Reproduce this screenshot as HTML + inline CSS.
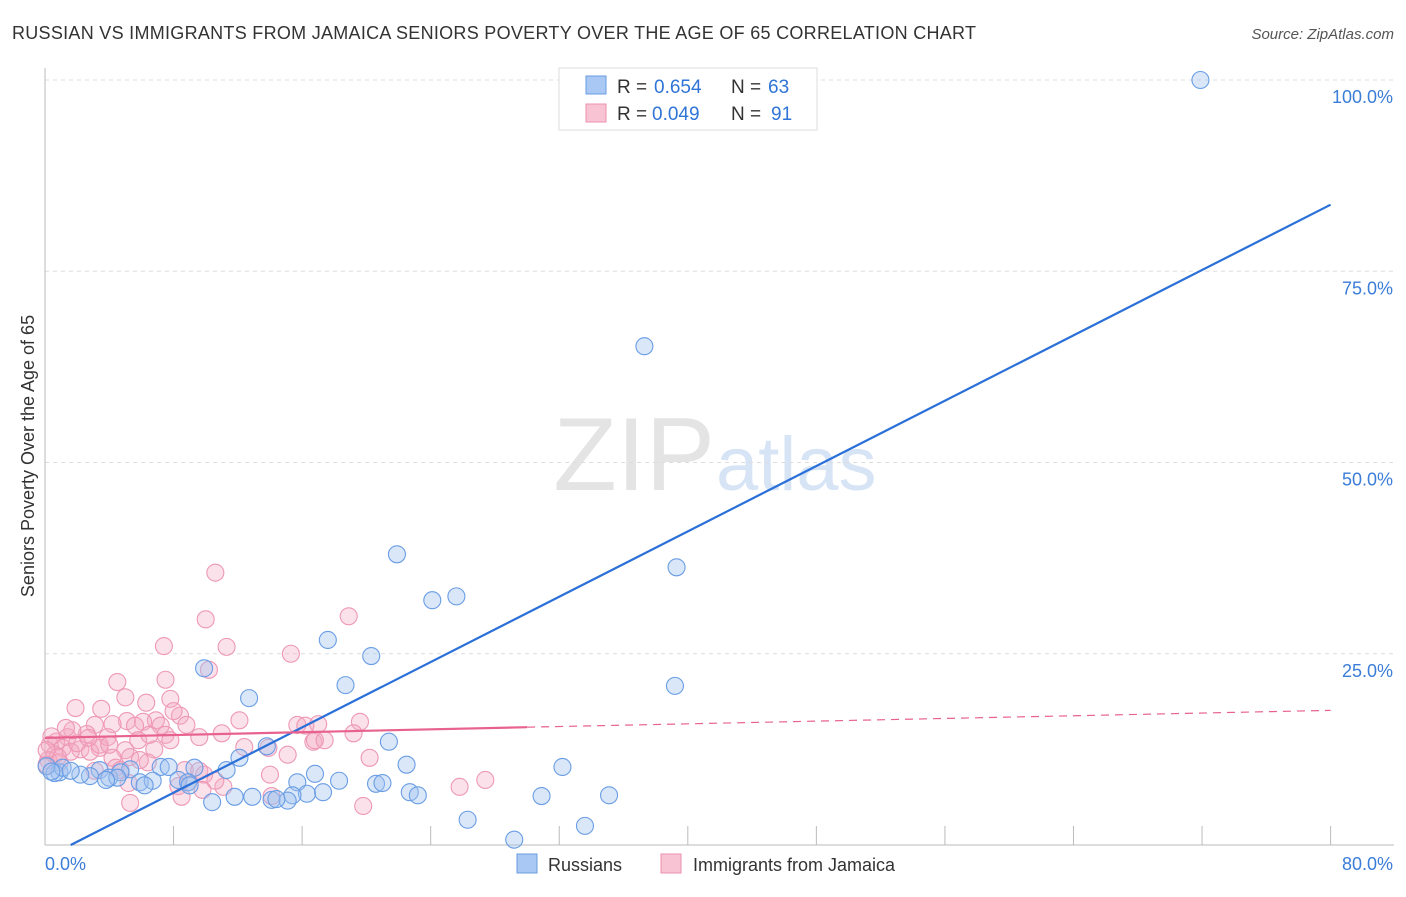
<!DOCTYPE html>
<html><head><meta charset="utf-8"><style>
body{margin:0;background:#fff;font-family:"Liberation Sans",sans-serif}
svg text{font-family:"Liberation Sans",sans-serif}
</style></head><body>
<svg id="chart" width="1406" height="892">
<text x="12" y="39" font-size="18" fill="#333" textLength="964">RUSSIAN VS IMMIGRANTS FROM JAMAICA SENIORS POVERTY OVER THE AGE OF 65 CORRELATION CHART</text>
<text x="1394" y="39" font-size="15" fill="#555" font-style="italic" text-anchor="end">Source: ZipAtlas.com</text>
<text x="715" y="490" font-size="104" fill="#e4e4e4" text-anchor="end" font-family="Liberation Serif">ZIP</text>
<text x="716" y="490" font-size="76" fill="#d6e4f5">atlas</text>
<text transform="translate(34,456) rotate(-90)" font-size="18" fill="#333" text-anchor="middle">Seniors Poverty Over the Age of 65</text>
<g id="grid"></g><g id="pink"></g><g id="blue"></g><g id="lines"></g>
<g>
<rect x="559" y="68" width="258" height="62" fill="#fff" stroke="#ddd"/>
<rect x="586" y="76" width="20" height="18" fill="#a9c8f3" stroke="#6a9de0"/>
<rect x="586" y="104" width="20" height="18" fill="#f8c4d4" stroke="#ec8fae"/>
<text x="617" y="93" font-size="19" fill="#333">R =</text><text x="654" y="93" font-size="19" fill="#2f74d6">0.654</text>
<text x="731" y="93" font-size="19" fill="#333">N =</text><text x="768" y="93" font-size="19" fill="#2f74d6">63</text>
<text x="617" y="120" font-size="19" fill="#333">R =</text><text x="652" y="120" font-size="19" fill="#2f74d6">0.049</text>
<text x="731" y="120" font-size="19" fill="#333">N =</text><text x="771" y="120" font-size="19" fill="#2f74d6">91</text>
</g>
<g>
<rect x="517" y="854" width="20" height="19" fill="#a9c8f3" stroke="#6a9de0"/>
<text x="548" y="871" font-size="18" fill="#333">Russians</text>
<rect x="661" y="854" width="20" height="19" fill="#f8c4d4" stroke="#ec8fae"/>
<text x="693" y="871" font-size="18" fill="#333">Immigrants from Jamaica</text>
</g>
</svg>
<script>
const xTicks=[0,8,16,24,32,40,48,56,64,72,80];
const yTicks=[25,50,75,100];
const yTickLabels=["25.0%","50.0%","75.0%","100.0%"];
const xLabels=["0.0%","80.0%"];
const blueX=[71.9,47.1,37.3,21.9,39.3,24.1,25.6,17.6,20.3,9.9,39.2,18.7,12.7,12.1,21.4,13.8,22.5,32.2,7.2,7.7,11.3,16.8,9.3,5.3,3.4,0.9,0.6,2.8,4.0,5.9,6.7,8.3,8.9,15.7,18.3,20.6,21.0,22.7,23.2,17.3,16.3,15.4,11.8,12.9,14.1,15.1,14.4,10.4,30.9,35.1,26.3,33.6,29.2,0.1,1.1,4.7,9.0,4.5,2.2,1.6,6.2,3.8,0.4];
const blueY=[100,100,65.2,38.0,36.3,32.0,32.5,26.8,24.7,23.1,20.8,20.9,19.2,11.4,13.5,12.9,10.5,10.2,10.2,10.2,9.8,9.3,10.1,9.9,9.8,9.5,9.4,9.0,8.8,8.2,8.4,8.5,8.2,8.2,8.4,8.0,8.1,6.9,6.5,6.9,6.7,6.5,6.3,6.3,5.9,5.8,6.0,5.6,6.4,6.5,3.3,2.5,0.7,10.3,10.1,9.5,7.8,8.8,9.2,9.7,7.8,8.5,9.6];
const pinkX=[10.6,10.0,11.3,7.4,18.9,15.3,10.2,7.5,4.5,5.0,1.9,3.5,6.3,7.8,8.4,6.9,8.0,5.1,6.1,4.2,3.1,5.6,7.2,8.8,7.5,11.0,15.7,17.0,19.6,16.2,9.6,5.8,2.6,1.4,0.7,0.3,1.1,2.2,3.4,5.0,6.8,0.6,1.6,2.8,0.2,0.9,0.1,4.2,5.3,12.4,13.9,15.1,16.7,19.2,20.2,8.7,9.6,6.4,4.4,3.1,14.0,9.9,11.1,8.9,9.8,8.3,5.2,25.8,27.4,10.6,14.1,8.5,5.3,19.8,3.4,2.0,2.7,3.9,6.5,12.1,16.8,0.4,1.7,1.3,4.7,0.8,0.1,4.0,7.8,5.9,17.4];
const pinkY=[35.6,29.5,25.9,26.0,29.9,25.0,22.9,21.6,21.3,19.3,17.9,17.8,18.6,19.1,16.9,16.3,17.5,16.2,16.1,15.8,15.7,15.6,15.6,15.7,14.4,14.6,15.7,15.8,16.1,15.6,14.1,13.7,14.5,14.1,13.5,13.1,12.7,12.5,12.7,12.4,12.5,11.8,12.2,12.2,11.1,10.8,10.5,11.4,11.5,12.8,12.7,11.8,13.5,14.6,11.4,9.8,9.7,10.8,10.1,9.7,9.2,9.2,7.6,8.2,7.2,7.7,8.1,7.6,8.5,8.4,6.4,6.3,5.5,5.1,13.1,13.3,14.0,14.1,14.4,16.3,13.7,14.2,15.0,15.3,9.8,11.5,12.4,13.1,13.7,11.1,13.7];
const blueTrend=[1.6,0,80,83.7];
const pinkTrend=[0,14.0,30,15.4,80,17.6];
const NS="http://www.w3.org/2000/svg";
const sx=v=>45+v*16.07, sy=v=>845-v*7.65;
function mk(t,a,p){const e=document.createElementNS(NS,t);for(const k in a)e.setAttribute(k,a[k]);p.appendChild(e);return e;}
const grid=document.getElementById('grid');
yTicks.forEach((t,i)=>{
 const l=mk('line',{x1:45,x2:1394,y1:sy(t),y2:sy(t),stroke:'#ddd','stroke-dasharray':'4,4'},grid);
 
 
 const tx=mk('text',{x:1393,y:sy(t)+23,'font-size':18,fill:'#3b7dd8','text-anchor':'end'},grid);tx.textContent=yTickLabels[i];
 
 
});
mk('line',{x1:45,x2:45,y1:68,y2:845,stroke:'#bbb'},grid);
mk('line',{x1:45,x2:1394,y1:845,y2:845,stroke:'#bbb'},grid);
xTicks.forEach(t=>{if(t===0)return;const l=mk('line',{x1:sx(t),x2:sx(t),y1:826,y2:845,stroke:'#bbb'},grid);
 
 });
[[xLabels[0],45,'start'],[xLabels[1],1393,'end']].forEach(([s,x,a])=>{const tx=mk('text',{x:x,y:870,'font-size':18,fill:'#3b7dd8','text-anchor':a},grid);tx.textContent=s;
 
 });
const pg=document.getElementById('pink');
pinkX.forEach((x,i)=>{const c=mk('circle',{cx:sx(x),cy:sy(pinkY[i]),r:8.5,fill:'rgba(244,170,195,0.35)',stroke:'#ee98b5','stroke-width':1.1},pg);
 
 });
const bg=document.getElementById('blue');
blueX.forEach((x,i)=>{const c=mk('circle',{cx:sx(x),cy:sy(blueY[i]),r:8.5,fill:'rgba(160,196,240,0.4)',stroke:'#6a9de4','stroke-width':1.1},bg);
 
 });
const lg=document.getElementById('lines');
const bl=mk('line',{x1:sx(blueTrend[0]),y1:sy(blueTrend[1]),x2:sx(blueTrend[2]),y2:sy(blueTrend[3]),stroke:'#2a70d8','stroke-width':2.2},lg);


const pl=mk('line',{x1:sx(pinkTrend[0]),y1:sy(pinkTrend[1]),x2:sx(pinkTrend[2]),y2:sy(pinkTrend[3]),stroke:'#e8628e','stroke-width':2.2},lg);


const pd=mk('line',{x1:sx(pinkTrend[2]),y1:sy(pinkTrend[3]),x2:sx(pinkTrend[4]),y2:sy(pinkTrend[5]),stroke:'#e8628e','stroke-width':1.2,'stroke-dasharray':'8,6'},lg);


</script>
</body></html>
